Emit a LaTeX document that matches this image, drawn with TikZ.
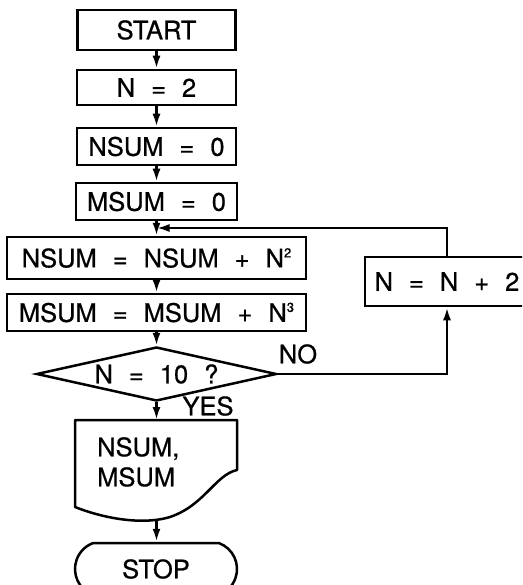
\documentclass[tikz,border=0pt]{standalone}
\usepackage{fontspec}
\setmainfont{TeX Gyre Heros}
\newfontfamily\letterfont{TeX Gyre Heros}[FakeBold=0.7]
\usetikzlibrary{arrows.meta,shapes.geometric,shapes.misc}
% small raised exponent
\newcommand{\powsup}[1]{\raisebox{10pt}{\fontsize{13}{13}\selectfont #1}}
% lettering with wide word gaps
\newcommand{\flowfont}{\letterfont\fontsize{25.5}{30}\selectfont\spaceskip=16pt plus 0pt minus 0pt\relax}

\begin{document}
\begin{tikzpicture}[x=1pt,y=-1pt,
  every node/.style={font=\flowfont, inner sep=0pt},
  proc/.style={draw, rectangle, line width=2.5pt},
  flow/.style={line width=2.5pt, -{Latex[length=13pt,width=8pt]}},
  outline/.style={line width=2.5pt, line join=round}
]
\useasboundingbox (0,0) rectangle (522,585);
\clip (0,0) rectangle (522,585);

% main column
\node[proc, minimum width=158pt, minimum height=40pt] (start) at (156.5,30) {START};
\node[proc, minimum width=159pt, minimum height=35pt] (n2) at (156.5,87.5) {N = 2};
\node[proc, minimum width=159pt, minimum height=37pt] (nsum0) at (156.5,146.5) {NSUM = 0};
\node[proc, minimum width=161pt, minimum height=37pt] (msum0) at (156.5,201.5) {MSUM = 0};
\node[proc, minimum width=299pt, minimum height=42pt] (nsumupd) at (156.5,258) {NSUM = NSUM + N\powsup{2}};
\node[proc, minimum width=299pt, minimum height=37pt] (msumupd) at (156.5,312.5) {MSUM = MSUM + N\powsup{3}};
\node[draw, diamond, aspect=4.4, line width=2.5pt, minimum width=240pt, minimum height=54pt] (dec) at (156.5,374) {N = 10 ?};

% increment box on the loop (runs off the right edge)
\node[proc, minimum width=164pt, minimum height=49pt] (nplus) at (447,281.5) {N = N + 2};

% branch labels
\node (no) at (298,354) {NO};
\node (yes) at (208,406) {YES};

% output document
\draw[outline] (75,420) -- (237,420) -- (237,470)
  .. controls (215,475) and (205,505) .. (170,517)
  .. controls (140,526) and (100,517) .. (75,507) -- cycle;
\coordinate (outtop) at (156.5,420);
\coordinate (outbot) at (156.5,519);
\node[anchor=north west, align=left] (outtxt) at (97,437) {NSUM,\\MSUM};

% terminal
\node[draw, rounded rectangle, rounded rectangle arc length=140, line width=2.5pt,
      minimum width=162pt, minimum height=52pt] (stop) at (156,569) {STOP};

% connectors
\coordinate (jn) at (156.5,228);
\draw[flow] (start.south) -- (n2.north);
\draw[flow] (n2.south) -- (nsum0.north);
\draw[flow] (nsum0.south) -- (msum0.north);
\draw[line width=2.5pt] (msum0.south) -- (jn);
\draw[flow] (jn) -- (nsumupd.north);
\draw[flow] (nsumupd.south) -- (msumupd.north);
\draw[flow] (msumupd.south) -- (dec.north);
\draw[flow] (dec.south) -- (outtop);
\draw[flow] (outbot) -- (outbot |- stop.north);
\draw[flow] (dec.east) -| (nplus.south);
\draw[flow] (nplus.north) |- (jn);
\end{tikzpicture}
\end{document}
